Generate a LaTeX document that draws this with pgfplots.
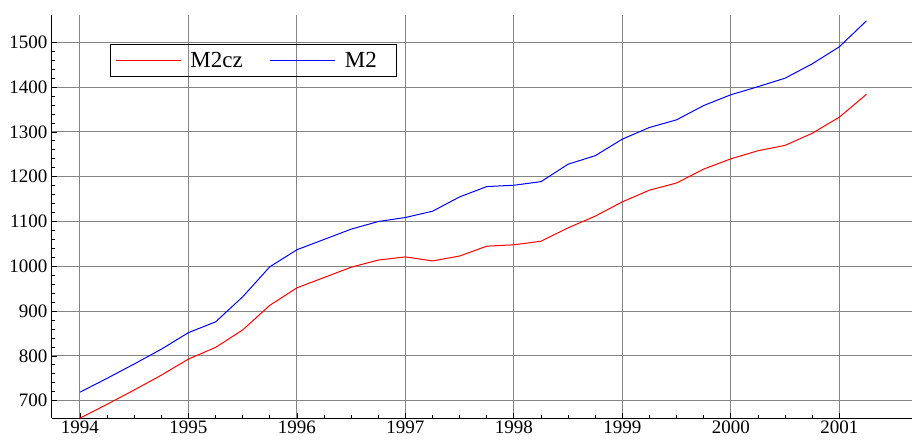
\documentclass[border=0pt]{standalone}
\usepackage{pgfplots}
\pgfplotsset{compat=1.18}
\usepackage{fontspec}
\setmainfont{Liberation Serif}
\definecolor{gridgray}{rgb}{0.52,0.52,0.52}
\begin{document}
\begin{tikzpicture}
\useasboundingbox (-52pt,-24pt) rectangle (860pt,418pt);
\begin{axis}[
  at={(0pt,0pt)}, anchor=south west,
  scale only axis, width=860pt, height=403pt,
  xmin=1993.742, xmax=2001.67,
  ymin=661.4, ymax=1561,
  axis x line*=bottom, axis y line*=left,
  axis line style={-, black, line width=1pt},
  xtick={1994,1995,1996,1997,1998,1999,2000,2001},
  xticklabels={1994,1995,1996,1997,1998,1999,2000,2001},
  ytick={700,800,900,1000,1100,1200,1300,1400,1500},
  yticklabels={700,800,900,1000,1100,1200,1300,1400,1500},
  minor x tick num=3, minor y tick num=4,
  tick align=inside,
  major tick length=5pt, minor tick length=3.5pt,
  tick style={black, line width=0.8pt},
  grid=major,
  major grid style={gridgray, line width=1pt},
  tick label style={font=\rmfamily\fontsize{19}{21}\selectfont},
  xticklabel style={yshift=-1pt, inner ysep=2pt},
  yticklabel style={xshift=-1pt},
  legend columns=2,
  legend style={at={(0.0674,0.928)}, anchor=north west, draw=black, fill=none, line width=1pt,
    font=\fontsize{23}{25}\selectfont, inner xsep=5pt, inner ysep=5.5pt,
    /tikz/every odd column/.append style={column sep=7pt},
    /tikz/every even column/.append style={column sep=25pt}},
  legend image code/.code={\draw[#1] (0pt,0pt) -- (65pt,0pt);},
]
\addplot[red, line width=1pt] coordinates {
(1994.00,661) (1994.25,692) (1994.50,724) (1994.75,757)
(1995.00,793) (1995.25,819) (1995.50,858) (1995.75,913)
(1996.00,952) (1996.25,975) (1996.50,998) (1996.75,1014)
(1997.00,1021) (1997.25,1012) (1997.50,1023) (1997.75,1045)
(1998.00,1048) (1998.25,1056) (1998.50,1086) (1998.75,1112)
(1999.00,1144) (1999.25,1170) (1999.50,1186) (1999.75,1217)
(2000.00,1240) (2000.25,1258) (2000.50,1270) (2000.75,1297)
(2001.00,1333) (2001.25,1384)
};
\addlegendentry{M2cz}
\addplot[blue, line width=1pt] coordinates {
(1994.00,719) (1994.25,750) (1994.50,782) (1994.75,815)
(1995.00,852) (1995.25,876) (1995.50,932) (1995.75,999)
(1996.00,1037) (1996.25,1060) (1996.50,1083) (1996.75,1100)
(1997.00,1109) (1997.25,1123) (1997.50,1155) (1997.75,1178)
(1998.00,1181) (1998.25,1189) (1998.50,1228) (1998.75,1247)
(1999.00,1284) (1999.25,1310) (1999.50,1327) (1999.75,1359)
(2000.00,1383) (2000.25,1401) (2000.50,1420) (2000.75,1452)
(2001.00,1490) (2001.25,1548)
};
\addlegendentry{M2\hspace*{13pt}}
\end{axis}
\end{tikzpicture}
\end{document}
